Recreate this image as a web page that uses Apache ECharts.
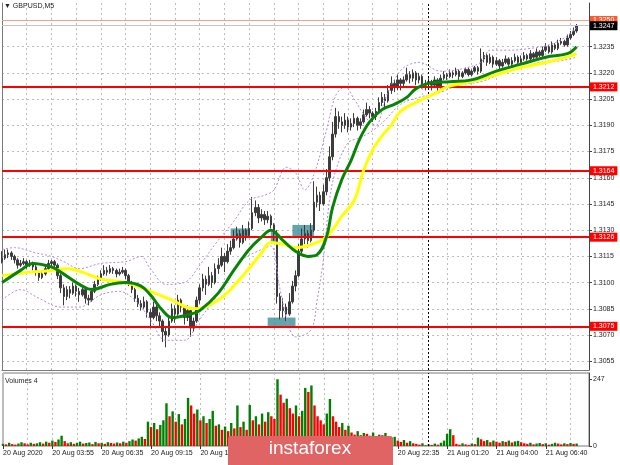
<!DOCTYPE html>
<html><head><meta charset="utf-8">
<script src="https://cdn.jsdelivr.net/npm/echarts@6/dist/echarts.min.js"></script>
<style>html,body{margin:0;padding:0;background:#fff}#c{width:620px;height:465px}</style>
</head><body><div id="c"></div>
<script>
// ---- DATA (one candle per 2 bars of M5) ----
const opens = [
1.3112,1.3114,1.3116,1.3117,1.3115,1.3113,1.3110,1.3111,1.3112,1.3110,
1.3111,1.3109,1.3106,1.3103,1.3105,1.3108,1.3111,1.3112,1.3110,1.3104,
1.3097,1.3092,1.3096,1.3094,1.3098,1.3095,1.3093,1.3096,1.3091,1.3090,
1.3095,1.3099,1.3102,1.3105,1.3107,1.3106,1.3108,1.3107,1.3105,1.3106,
1.3107,1.3104,1.3100,1.3096,1.3091,1.3088,1.3086,1.3089,1.3083,1.3080,
1.3086,1.3081,1.3078,1.3072,1.3070,1.3078,1.3085,1.3082,1.3090,1.3086,
1.3080,1.3084,1.3074,1.3078,1.3090,1.3097,1.3102,1.3099,1.3104,1.3100,
1.3108,1.3110,1.3115,1.3112,1.3118,1.3120,1.3125,1.3128,1.3123,1.3130,
1.3127,1.3131,1.3140,1.3143,1.3137,1.3139,1.3136,1.3138,1.3133,1.3128,
1.3092,1.3084,1.3086,1.3082,1.3089,1.3098,1.3104,1.3118,1.3125,1.3128,
1.3124,1.3130,1.3146,1.3150,1.3145,1.3152,1.3160,1.3172,1.3185,1.3195,
1.3192,1.3190,1.3193,1.3189,1.3191,1.3194,1.3190,1.3192,1.3196,1.3199,
1.3197,1.3195,1.3198,1.3203,1.3206,1.3204,1.3210,1.3214,1.3212,1.3216,
1.3214,1.3216,1.3219,1.3217,1.3220,1.3216,1.3218,1.3213,1.3214,1.3215,
1.3213,1.3216,1.3212,1.3217,1.3219,1.3218,1.3220,1.3219,1.3221,1.3218,
1.3220,1.3222,1.3219,1.3221,1.3223,1.3221,1.3228,1.3230,1.3226,1.3229,
1.3225,1.3227,1.3224,1.3226,1.3228,1.3225,1.3227,1.3229,1.3226,1.3228,
1.3230,1.3228,1.3231,1.3229,1.3232,1.3230,1.3233,1.3235,1.3232,1.3236,
1.3234,1.3237,1.3238,1.3236,1.3240,1.3242,1.3244];
const closes = [
1.3114,1.3116,1.3117,1.3115,1.3113,1.3110,1.3111,1.3112,1.3110,1.3111,
1.3109,1.3106,1.3103,1.3105,1.3108,1.3111,1.3112,1.3110,1.3104,1.3097,
1.3092,1.3096,1.3094,1.3098,1.3095,1.3093,1.3096,1.3091,1.3090,1.3095,
1.3099,1.3102,1.3105,1.3107,1.3106,1.3108,1.3107,1.3105,1.3106,1.3107,
1.3104,1.3100,1.3096,1.3091,1.3088,1.3086,1.3089,1.3083,1.3080,1.3086,
1.3081,1.3078,1.3072,1.3070,1.3078,1.3085,1.3082,1.3090,1.3086,1.3080,
1.3084,1.3074,1.3078,1.3090,1.3097,1.3102,1.3099,1.3104,1.3100,1.3108,
1.3110,1.3115,1.3112,1.3118,1.3120,1.3125,1.3128,1.3123,1.3130,1.3127,
1.3131,1.3140,1.3143,1.3137,1.3139,1.3136,1.3138,1.3133,1.3128,1.3092,
1.3084,1.3086,1.3082,1.3089,1.3098,1.3104,1.3118,1.3125,1.3128,1.3124,
1.3130,1.3146,1.3150,1.3145,1.3152,1.3160,1.3172,1.3185,1.3195,1.3192,
1.3190,1.3193,1.3189,1.3191,1.3194,1.3190,1.3192,1.3196,1.3199,1.3197,
1.3195,1.3198,1.3203,1.3206,1.3204,1.3210,1.3214,1.3212,1.3216,1.3214,
1.3216,1.3219,1.3217,1.3220,1.3216,1.3218,1.3213,1.3214,1.3215,1.3213,
1.3216,1.3212,1.3217,1.3219,1.3218,1.3220,1.3219,1.3221,1.3218,1.3220,
1.3222,1.3219,1.3221,1.3223,1.3221,1.3228,1.3230,1.3226,1.3229,1.3225,
1.3227,1.3224,1.3226,1.3228,1.3225,1.3227,1.3229,1.3226,1.3228,1.3230,
1.3228,1.3231,1.3229,1.3232,1.3230,1.3233,1.3235,1.3232,1.3236,1.3234,
1.3237,1.3238,1.3236,1.3240,1.3242,1.3244,1.3247];
const highs = [
1.3118,1.3119,1.3119,1.3118,1.3116,1.3114,1.3113,1.3114,1.3113,1.3113,
1.3112,1.3110,1.3107,1.3107,1.3110,1.3113,1.3113,1.3113,1.3111,1.3105,
1.3099,1.3098,1.3098,1.3100,1.3099,1.3097,1.3098,1.3097,1.3093,1.3097,
1.3101,1.3104,1.3107,1.3110,1.3109,1.3110,1.3109,1.3108,1.3108,1.3109,
1.3108,1.3105,1.3101,1.3097,1.3093,1.3090,1.3092,1.3090,1.3085,1.3089,
1.3088,1.3083,1.3079,1.3075,1.3080,1.3088,1.3087,1.3093,1.3091,1.3087,
1.3087,1.3085,1.3080,1.3092,1.3099,1.3105,1.3104,1.3109,1.3106,1.3111,
1.3114,1.3120,1.3117,1.3122,1.3124,1.3130,1.3132,1.3130,1.3133,1.3131,
1.3135,1.3149,1.3147,1.3145,1.3142,1.3141,1.3141,1.3139,1.3134,1.3130,
1.3094,1.3091,1.3088,1.3094,1.3101,1.3107,1.3122,1.3131,1.3133,1.3130,
1.3134,1.3158,1.3155,1.3152,1.3156,1.3165,1.3178,1.3192,1.3200,1.3198,
1.3195,1.3197,1.3195,1.3194,1.3197,1.3195,1.3194,1.3199,1.3203,1.3201,
1.3198,1.3200,1.3206,1.3209,1.3208,1.3213,1.3218,1.3216,1.3219,1.3217,
1.3218,1.3223,1.3221,1.3222,1.3221,1.3220,1.3219,1.3216,1.3217,1.3216,
1.3218,1.3217,1.3219,1.3221,1.3220,1.3222,1.3221,1.3223,1.3222,1.3221,
1.3223,1.3223,1.3222,1.3224,1.3224,1.3234,1.3232,1.3231,1.3231,1.3230,
1.3229,1.3228,1.3228,1.3230,1.3229,1.3229,1.3231,1.3230,1.3230,1.3232,
1.3231,1.3233,1.3232,1.3234,1.3233,1.3235,1.3237,1.3236,1.3238,1.3237,
1.3239,1.3240,1.3239,1.3242,1.3244,1.3246,1.3248];
const lows = [
1.3111,1.3113,1.3114,1.3113,1.3111,1.3108,1.3109,1.3110,1.3108,1.3109,
1.3107,1.3104,1.3101,1.3102,1.3104,1.3107,1.3109,1.3108,1.3102,1.3094,
1.3087,1.3090,1.3091,1.3093,1.3092,1.3089,1.3092,1.3088,1.3087,1.3089,
1.3094,1.3098,1.3101,1.3104,1.3104,1.3105,1.3105,1.3103,1.3104,1.3105,
1.3102,1.3098,1.3094,1.3089,1.3086,1.3084,1.3085,1.3080,1.3074,1.3079,
1.3078,1.3074,1.3066,1.3063,1.3069,1.3077,1.3077,1.3081,1.3083,1.3076,
1.3078,1.3069,1.3072,1.3077,1.3088,1.3095,1.3093,1.3098,1.3097,1.3099,
1.3105,1.3109,1.3106,1.3111,1.3116,1.3119,1.3124,1.3120,1.3122,1.3124,
1.3126,1.3130,1.3138,1.3134,1.3135,1.3133,1.3134,1.3131,1.3124,1.3088,
1.3079,1.3080,1.3078,1.3081,1.3088,1.3095,1.3103,1.3116,1.3122,1.3120,
1.3123,1.3129,1.3143,1.3141,1.3144,1.3150,1.3158,1.3170,1.3183,1.3188,
1.3186,1.3188,1.3186,1.3187,1.3189,1.3187,1.3188,1.3191,1.3195,1.3194,
1.3192,1.3193,1.3197,1.3201,1.3200,1.3203,1.3208,1.3209,1.3210,1.3210,
1.3212,1.3215,1.3214,1.3215,1.3213,1.3214,1.3211,1.3210,1.3211,1.3210,
1.3212,1.3209,1.3211,1.3216,1.3216,1.3217,1.3217,1.3218,1.3216,1.3217,
1.3219,1.3218,1.3218,1.3220,1.3219,1.3220,1.3226,1.3224,1.3225,1.3223,
1.3224,1.3222,1.3223,1.3225,1.3224,1.3224,1.3226,1.3225,1.3225,1.3227,
1.3227,1.3227,1.3228,1.3228,1.3229,1.3229,1.3232,1.3231,1.3231,1.3233,
1.3233,1.3236,1.3235,1.3235,1.3239,1.3241,1.3243];
const volumes = [
8,6,12,7,5,9,14,10,6,12,8,
10,14,9,16,12,20,15,24,38,18,
10,14,8,12,16,9,11,13,7,15,10,12,8,14,11,9,13,10,16,12,
18,24,20,28,34,26,90,70,85,62,78,95,158,110,128,90,118,80,100,178,150,
120,135,95,110,85,100,130,75,80,60,72,55,85,65,150,70,90,60,152,
95,110,80,120,90,125,110,100,247,190,160,175,140,120,150,110,130,215,200,224,
150,110,95,80,120,174,110,90,70,85,60,75,50,42,55,40,48,
45,38,50,35,42,40,48,36,30,34,20,15,22,12,18,10,8,5,10,3,6,4,9,5,
12,20,45,62,40,8,5,10,6,4,9,7,31,25,18,22,14,20,16,
12,18,15,20,13,17,19,14,
10,8,12,6,9,11,7,10,5,8,12,9,6,10,7,11,8,9];
// moving averages and bands, [slot, price] read at sampled points
const maFast = [[0,1.3100],[6,1.3107],[10,1.3111],[16,1.3109],[19,1.3106],[26,1.3098],[29,1.3096],[35,1.3099],[40,1.3100],[45,1.3098],[48,1.3093],[52,1.3084],[55,1.3080],[61,1.3082],[64,1.3084],[70,1.3094],[75,1.3107],[80,1.3119],[84,1.3126],[87,1.3130],[91,1.3124],[95,1.3118],[99,1.3115],[102,1.3116],[105,1.3126],[107,1.3143],[110,1.3159],[113,1.3170],[116,1.3183],[119,1.3192],[123,1.3199],[127,1.3202],[131,1.3206],[134,1.3211],[138,1.3214],[145,1.3215],[152,1.3216],[160,1.3221],[168,1.3225],[176,1.3229],[183,1.3231],[186,1.3235]];
const maSlow = [[0,1.3104],[9,1.3106],[16,1.3107],[21,1.3108],[26,1.3106],[32,1.3102],[40,1.3100],[48,1.3095],[55,1.3090],[62,1.3085],[70,1.3090],[77,1.3102],[84,1.3117],[87,1.3123],[91,1.3122],[95,1.3120],[102,1.3123],[106,1.3128],[110,1.3138],[114,1.3147],[117,1.3164],[120,1.3176],[123,1.3184],[126,1.3190],[129,1.3198],[135,1.3204],[141,1.3209],[144,1.3212],[152,1.3215],[160,1.3219],[168,1.3223],[176,1.3226],[183,1.3229],[186,1.3231]];
const bandUpper = [[0,1.3119],[4,1.3120],[11,1.3117],[16,1.3115],[20,1.3112],[25,1.3108],[32,1.3111],[40,1.3112],[45,1.3115],[48,1.3108],[53,1.3099],[59,1.3100],[64,1.3110],[69,1.3122],[75,1.3135],[80,1.3147],[85,1.3150],[88,1.3153],[92,1.3166],[95,1.3163],[98,1.3153],[101,1.3162],[105,1.3187],[108,1.3207],[111,1.3212],[114,1.3205],[118,1.3194],[121,1.3190],[124,1.3205],[127,1.3216],[130,1.3223],[135,1.3226],[142,1.3221],[148,1.3222],[155,1.3226],[158,1.3233],[164,1.3233],[171,1.3234],[177,1.3236],[182,1.3240],[186,1.3246]];
const bandLower = [[0,1.3090],[6,1.3096],[12,1.3091],[19,1.3086],[25,1.3086],[32,1.3093],[38,1.3095],[43,1.3090],[48,1.3079],[53,1.3067],[59,1.3067],[64,1.3079],[71,1.3096],[77,1.3112],[84,1.3119],[87,1.3121],[90,1.3096],[93,1.3074],[95,1.3069],[100,1.3073],[102,1.3090],[104,1.3113],[106,1.3147],[108,1.3164],[112,1.3180],[116,1.3183],[120,1.3187],[124,1.3193],[129,1.3202],[135,1.3206],[142,1.3209],[148,1.3213],[155,1.3215],[161,1.3219],[168,1.3223],[174,1.3226],[181,1.3227],[186,1.3229]];
const levels = [1.3212, 1.3164, 1.3126, 1.3075];
const targetLevel = 1.3250;
const bidPrice = 1.3247;
const zones = [[74,80,1.3126,1.3131],[87,89,1.3123,1.3129],[86,95,1.3075,1.3080],[94,101,1.3126,1.3133]];
const separatorSlot = 138;
const priceTicks = [1.3055,1.3070,1.3085,1.3100,1.3115,1.3130,1.3145,1.3160,1.3175,1.3190,1.3205,1.3220,1.3235];
const volumeTicks = [0, 247];
const tickLabels = ['20 Aug 2020','20 Aug 03:55','20 Aug 06:35','20 Aug 09:15','20 Aug 11:55','20 Aug 14:35','20 Aug 17:15','20 Aug 19:55','20 Aug 22:35','21 Aug 01:20','21 Aug 04:00','21 Aug 06:40'];
const slotCount = 191;

// ---- CHART ----
const FONT = '"Liberation Sans", Arial, sans-serif';
const cats = Array.from({length: slotCount}, (_, i) => String(i));
const candles = opens.map((o, i) => [o, closes[i], lows[i], highs[i]]);
const volData = volumes.map((v, i) => ({
  value: v,
  itemStyle: {color: (i > 0 && v < volumes[i - 1]) ? '#ff0000' : '#008000'}
}));
const grid = {color: '#bdbdbd', type: [2, 3], width: 1};
const lvlLabel = (bg) => ({
  show: true, position: 'end', distance: 1, color: '#fff', backgroundColor: bg,
  padding: [1, 3, 1, 3], fontSize: 7, fontFamily: FONT,
  formatter: p => Number(p.value).toFixed(4)
});

const chart = echarts.init(document.getElementById('c'), null, {renderer: 'canvas'});
chart.setOption({
  animation: false,
  backgroundColor: '#ffffff',
  title: [
    {text: '\u25BC GBPUSD,M5', left: 4, top: 3, padding: 0,
     textStyle: {fontSize: 7, fontWeight: 'normal', color: '#222', fontFamily: FONT}},
    {text: 'Volumes 4', left: 5, top: 378, padding: 0,
     textStyle: {fontSize: 7, fontWeight: 'normal', color: '#222', fontFamily: FONT}}
  ],
  grid: [
    {left: 2, top: 3, width: 587, height: 367, show: false},
    {left: 2, top: 373, width: 587, height: 73, show: true, borderColor: '#7a7a7a', borderWidth: 1}
  ],
  xAxis: [
    {type: 'category', gridIndex: 0, data: cats, boundaryGap: false,
     axisLine: {show: true, onZero: false, lineStyle: {color: '#7a7a7a'}},
     axisTick: {show: false}, axisLabel: {show: false},
     splitLine: {show: true, interval: 7, lineStyle: grid}},
    {type: 'category', gridIndex: 1, data: cats, boundaryGap: false,
     axisLine: {show: false},
     axisTick: {show: true, interval: 15, length: 3, lineStyle: {color: '#333'}},
     axisLabel: {interval: 15, align: 'left', fontSize: 7, color: '#222', margin: 4, fontFamily: FONT,
                 formatter: (v, i) => tickLabels[Math.round(i / 16)] || ''},
     splitLine: {show: true, interval: 7, lineStyle: grid}}
  ],
  yAxis: [
    {type: 'value', gridIndex: 0, position: 'right', min: 1.3050, max: 1.3260, scale: true,
     axisLine: {show: true, lineStyle: {color: '#444'}},
     axisTick: {show: true, length: 3, customValues: priceTicks, lineStyle: {color: '#444'}},
     axisLabel: {customValues: priceTicks, fontSize: 7, color: '#222', margin: 4, fontFamily: FONT,
                 formatter: v => v.toFixed(4)},
     splitLine: {show: true, lineStyle: grid}},
    {type: 'value', gridIndex: 0, position: 'left', min: 1.3050, max: 1.3260, scale: true,
     axisLine: {show: true, lineStyle: {color: '#7a7a7a'}},
     axisTick: {show: false}, axisLabel: {show: false}, splitLine: {show: false}},
    {type: 'value', gridIndex: 1, position: 'right', min: 0, max: 270,
     axisLine: {show: true, lineStyle: {color: '#444'}},
     axisTick: {show: true, length: 3, customValues: volumeTicks, lineStyle: {color: '#444'}},
     axisLabel: {customValues: volumeTicks, fontSize: 7, color: '#222', margin: 4, fontFamily: FONT},
     splitLine: {show: false}}
  ],
  series: [
    {type: 'candlestick', xAxisIndex: 0, yAxisIndex: 0, data: candles, barWidth: 2, z: 2,
     itemStyle: {color: '#3c3c3c', color0: '#3c3c3c', borderColor: '#3c3c3c', borderColor0: '#3c3c3c', borderWidth: 1}},
    {type: 'line', xAxisIndex: 0, yAxisIndex: 0, data: bandUpper, showSymbol: false, smooth: 0.35, z: 3,
     lineStyle: {color: '#b488e4', width: 1, type: [2, 2]}},
    {type: 'line', xAxisIndex: 0, yAxisIndex: 0, data: bandLower, showSymbol: false, smooth: 0.35, z: 3,
     lineStyle: {color: '#b488e4', width: 1, type: [2, 2]}},
    {type: 'line', xAxisIndex: 0, yAxisIndex: 0, data: [], z: 4,
     markArea: {silent: true, itemStyle: {color: 'rgba(56,140,148,0.78)'},
       data: zones.map(z => [{xAxis: String(z[0]), yAxis: z[3]}, {xAxis: String(z[1]), yAxis: z[2]}])}},
    {type: 'line', xAxisIndex: 0, yAxisIndex: 0, data: maSlow, showSymbol: false, smooth: 0.4, z: 5,
     lineStyle: {color: '#ffff00', width: 3}},
    {type: 'line', xAxisIndex: 0, yAxisIndex: 0, data: maFast, showSymbol: false, smooth: 0.4, z: 6,
     lineStyle: {color: '#078407', width: 3}},
    {type: 'line', xAxisIndex: 0, yAxisIndex: 0, data: [], z: 7,
     markLine: {symbol: ['none', 'none'], silent: true, precision: 4,
       data: [
         {xAxis: String(separatorSlot), lineStyle: {color: '#000', width: 1, type: [2, 2]}, label: {show: false}},
         {yAxis: targetLevel, lineStyle: {color: '#ff9c84', width: 1, type: 'solid'}, label: lvlLabel('#ff5a2e')},
         {yAxis: bidPrice, lineStyle: {color: '#c4c4c4', width: 1, type: 'solid'}, label: lvlLabel('#000000')}
       ].concat(levels.map(v => ({yAxis: v, lineStyle: {color: '#ff0000', width: 2, type: 'solid'}, label: lvlLabel('#ff0000')})))}},
    {type: 'bar', xAxisIndex: 1, yAxisIndex: 2, data: volData, barWidth: 2.4,
     markLine: {symbol: ['none', 'none'], silent: true,
       data: [{xAxis: String(separatorSlot), lineStyle: {color: '#000', width: 1, type: [2, 2]}, label: {show: false}}]}}
  ],
  graphic: [
    {type: 'rect', left: 228, top: 436, z: 100, shape: {width: 165, height: 30, r: [3, 3, 0, 0]},
     style: {fill: '#e06464'}},
    {type: 'text', left: 'center', top: 439, z: 101,
     style: {text: 'instaforex', fill: '#ffffff', font: '19px "Liberation Sans", Arial, sans-serif'}}
  ]
});
</script>
</body></html>
